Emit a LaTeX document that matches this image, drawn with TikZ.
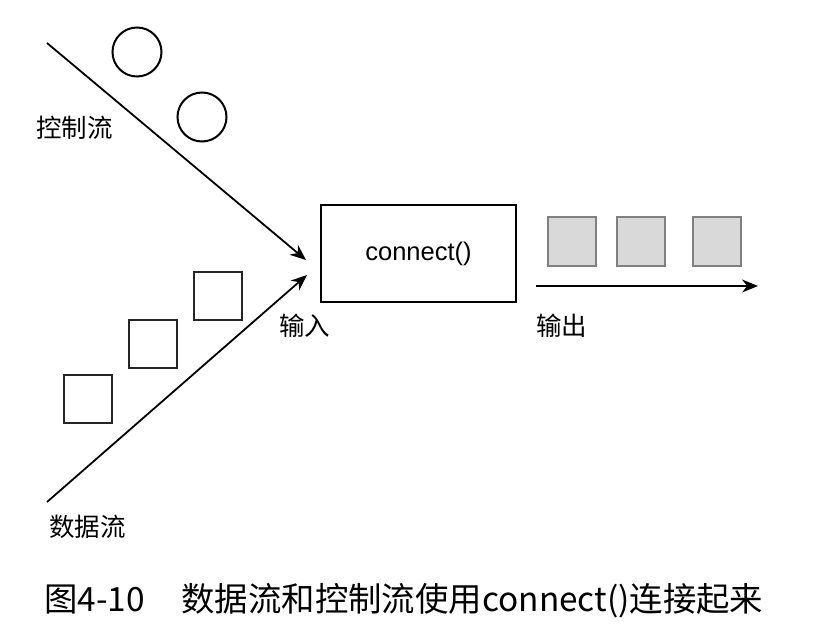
\documentclass[tikz,border=0pt]{standalone}
\usepackage{fontspec}
\setmainfont{Liberation Sans}
\newfontfamily\cjk{Noto Sans CJK SC}
\usetikzlibrary{arrows.meta, positioning}
\definecolor{outfill}{HTML}{D9D9D9}
\definecolor{outdraw}{HTML}{808080}

\begin{document}
\begin{tikzpicture}[x=1pt,y=-1pt,
    flow/.style={-{Stealth[length=16pt,width=13pt]}, line width=1.8pt, black},
    token/.style={circle, draw=black, line width=2pt, minimum size=49pt, inner sep=0pt},
    datum/.style={rectangle, draw=black!85, line width=2pt, minimum size=48pt, inner sep=0pt},
    result/.style={rectangle, draw=outdraw, fill=outfill, line width=2pt, minimum size=48pt, inner sep=0pt},
    operator/.style={rectangle, draw=black, line width=1.8pt, minimum width=195pt, minimum height=97pt, font=\fontsize{25.5}{30}\selectfont},
    lbl/.style={font=\cjk\fontsize{25.5}{30}\selectfont, inner sep=0pt},
    caption/.style={font=\cjk\fontsize{33.4}{40}\selectfont, inner sep=0pt}]
    \useasboundingbox (0,0) rectangle (826,636);

    % operator box
    \node[operator] (conn) at (418.5,253.5) {connect()};

    % control flow
    \node[token] (c_1) at (137,52) {};
    \node[token] (c_2) at (202,117) {};
    \coordinate (ctrl_s) at (47,43);
    \coordinate (ctrl_e) at (306,260);
    \node[lbl, anchor=west] (ctrl_l) at (36,128) {控制流};

    % data flow
    \node[datum] (d_1) at (88,399) {};
    \node[datum] (d_2) at (153,344) {};
    \node[datum] (d_3) at (217.5,296) {};
    \coordinate (data_s) at (47,502);
    \coordinate (data_e) at (307,275);
    \node[lbl, anchor=west] (data_l) at (49,527) {数据流};

    % output
    \node[result] (r_1) at (572,241.5) {};
    \node[result] (r_2) at (641,241.5) {};
    \node[result] (r_3) at (717,241.5) {};
    \coordinate (out_s) at (536,286);
    \coordinate (out_e) at (758,286);

    \node[lbl, anchor=west] (in_l) at (279,326) {输入};
    \node[lbl, anchor=west] (out_l) at (536,326) {输出};

    \path
    (ctrl_s) edge[flow] (ctrl_e)
    (data_s) edge[flow] (data_e)
    (out_s) edge[flow] (out_e)
    ;

    \node[caption, anchor=west] (cap) at (44,601) {图4-10\hspace{1.1em}数据流和控制流使用connect()连接起来};
\end{tikzpicture}
\end{document}
